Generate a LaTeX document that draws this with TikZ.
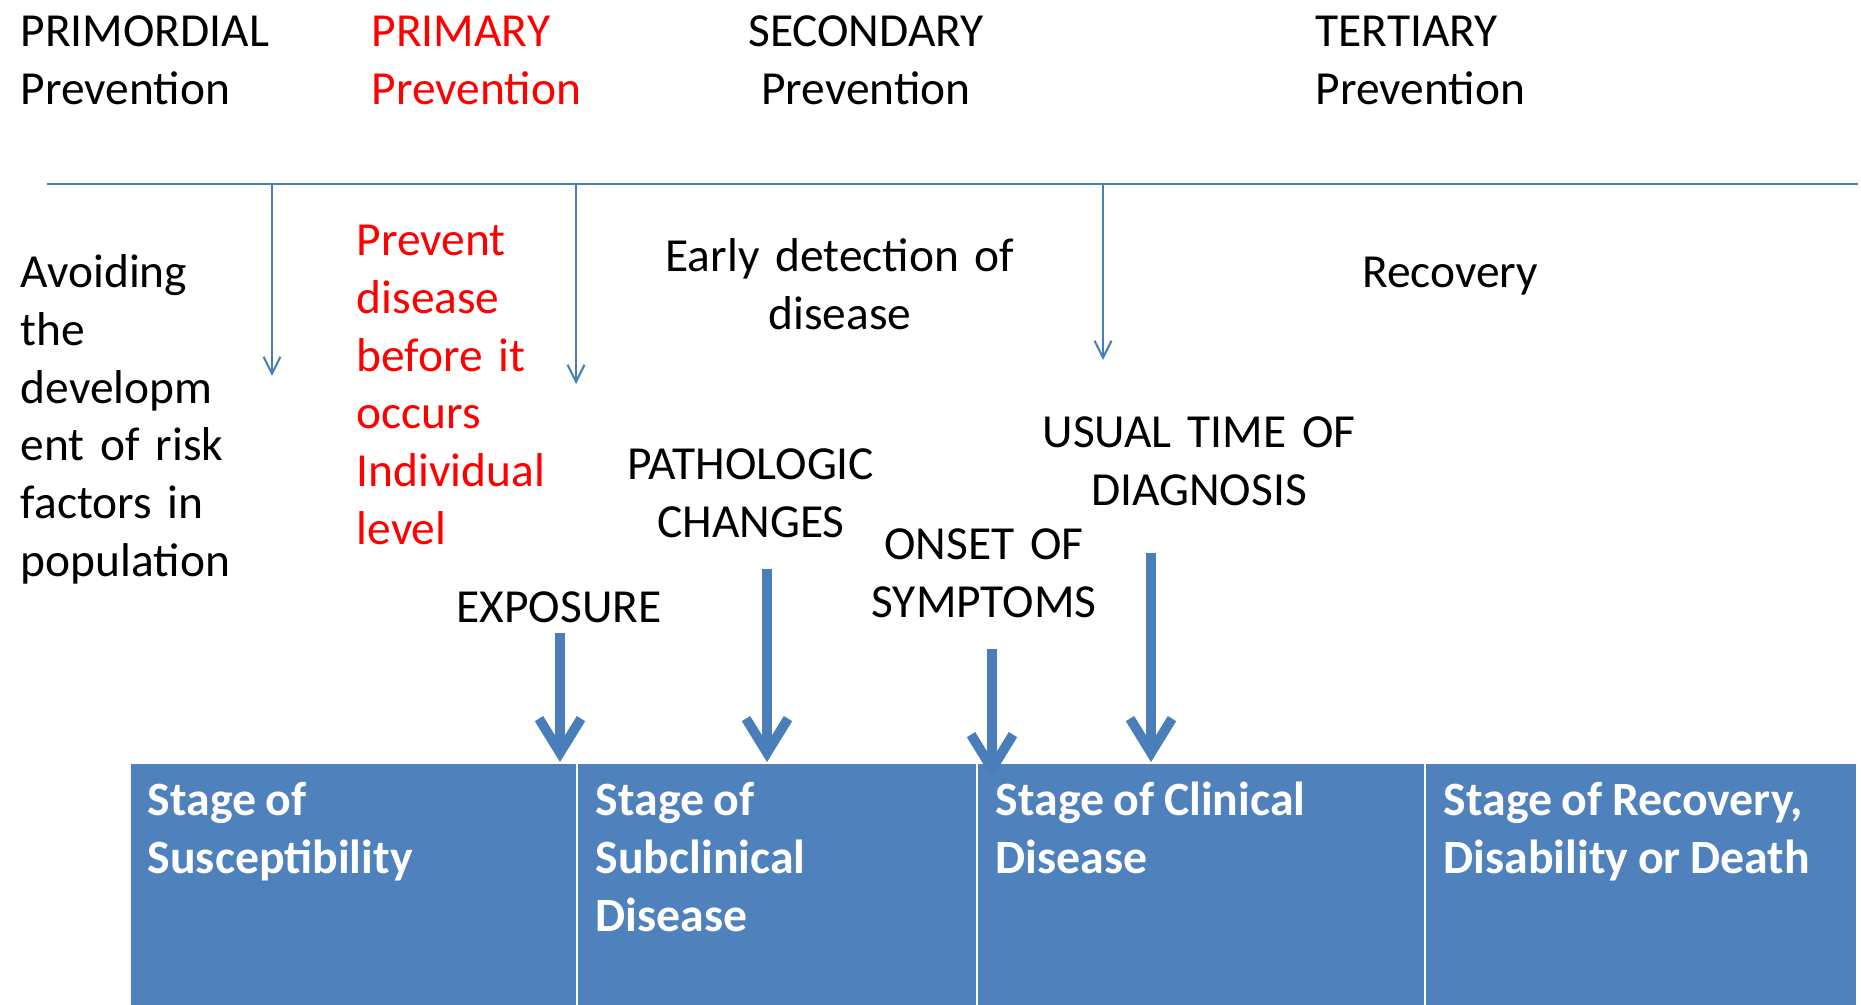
\documentclass[tikz,border=0pt]{standalone}
\usepackage{fontspec}
\setmainfont{Carlito}
\usetikzlibrary{arrows.meta}

\definecolor{stageblue}{HTML}{4F81BD}
\definecolor{lineblue}{HTML}{4A7EBB}
\definecolor{primred}{HTML}{FF0000}

\begin{document}
\begin{tikzpicture}[
lefttxt/.style={inner sep=0pt, text width=#1, align=left, anchor=base west,
  font=\fontsize{13.5}{16.4}\selectfont},
lefttxt/.default=3cm,
midtxt/.style={inner sep=0pt, text width=#1, align=center, anchor=base,
  font=\fontsize{13.5}{16.4}\selectfont},
midtxt/.default=3.6cm,
stagebox/.style={rectangle,
  fill=stageblue,
  draw=white,
  line width=0.5pt,
  inner sep=0pt,
  minimum height=2.43cm,
  anchor=north west
},
stagetxt/.style={inner sep=0pt, text width=4cm, align=left, anchor=base west,
  text=white, font=\fontsize{13.6}{16.4}\selectfont\bfseries,
  execute at begin node={\spaceskip=0.2em\relax}},
thinarrow/.style={draw=lineblue, line width=0.6pt,
  -{Straight Barb[length=1.7mm,width=1.7mm]}},
bigarrow/.style={draw=lineblue, line width=2.8pt,
  -{Straight Barb[length=3.4mm,width=4.2mm]}},
>=latex
]
\useasboundingbox (0,0) rectangle (18.61,-10.05);

% levels of prevention
\node[lefttxt] (primord)
    at (0.20,-0.47) {PRIMORDIAL\\Prevention};
\node[lefttxt, text=primred] (primary)
    at (3.71,-0.47) {PRIMARY\\Prevention};
\node[midtxt] (second)
    at (8.66,-0.47) {SECONDARY\\Prevention};
\node[lefttxt] (tertiary)
    at (13.15,-0.47) {TERTIARY\\Prevention};

% time line with ticks
\coordinate (lineL) at (0.47,-1.84);
\coordinate (lineR) at (18.58,-1.84);
\draw[lineblue, line width=0.7pt] (lineL) -- (lineR);

\coordinate (tickA) at (2.72,-1.84);
\coordinate (tickB) at (5.76,-1.84);
\coordinate (tickC) at (11.03,-1.84);
\draw[thinarrow] (tickA) -- (2.72,-3.76);
\draw[thinarrow] (tickB) -- (5.76,-3.84);
\draw[thinarrow] (tickC) -- (11.03,-3.60);

% what each level does
\node[lefttxt] (avoid)
    at (0.20,-2.88) {Avoiding\\the\\developm\\ent of risk\\factors in\\population};
\node[lefttxt, text=primred] (prevent)
    at (3.56,-2.56) {Prevent\\disease\\before it\\occurs\\Individual\\level};
\node[midtxt] (early)
    at (8.40,-2.72) {Early detection of\\disease};
\node[midtxt] (recov)
    at (14.50,-2.88) {Recovery};

% events
\node[midtxt] (patho)
    at (7.51,-4.80) {PATHOLOGIC\\CHANGES};
\node[midtxt] (usual)
    at (11.99,-4.48) {USUAL TIME OF\\DIAGNOSIS};
\node[midtxt] (onset)
    at (9.84,-5.60) {ONSET OF\\SYMPTOMS};
\node[midtxt] (expo)
    at (5.59,-6.23) {EXPOSURE};

% stages
\node[stagebox, minimum width=4.47cm] (susc) at (1.29,-7.62) {};
\node[stagebox, minimum width=4.00cm] (subcl) at (5.76,-7.62) {};
\node[stagebox, minimum width=4.48cm] (clin) at (9.76,-7.62) {};
\node[stagebox, minimum width=4.32cm] (recst) at (14.24,-7.62) {};

\node[stagetxt] (suscT) at ([xshift=0.18cm, yshift=-0.54cm]susc.north west)
    {Stage of\\Susceptibility};
\node[stagetxt] (subclT) at ([xshift=0.19cm, yshift=-0.54cm]subcl.north west)
    {Stage of\\Subclinical\\Disease};
\node[stagetxt] (clinT) at ([xshift=0.19cm, yshift=-0.54cm]clin.north west)
    {Stage of Clinical\\Disease};
\node[stagetxt] (recstT) at ([xshift=0.19cm, yshift=-0.54cm]recst.north west)
    {Stage of Recovery,\\Disability or Death};

% event arrows
\coordinate (expoTop) at (5.60,-6.33);
\coordinate (pathoTop) at (7.67,-5.69);
\coordinate (onsetTop) at (9.92,-6.49);
\coordinate (onsetTip) at (9.92,-7.78);
\coordinate (usualTop) at (11.51,-5.53);
\draw[bigarrow] (expoTop) -- (expoTop |- susc.north);
\draw[bigarrow] (pathoTop) -- (pathoTop |- subcl.north);
\draw[bigarrow] (onsetTop) -- (onsetTip);
\draw[bigarrow] (usualTop) -- (usualTop |- clin.north);
\end{tikzpicture}
\end{document}
